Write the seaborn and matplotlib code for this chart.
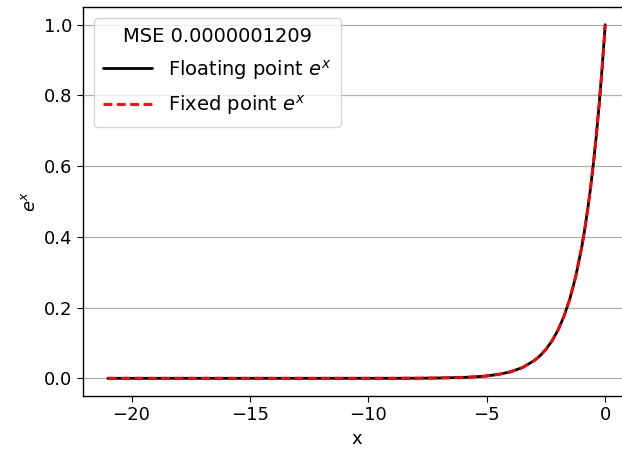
import matplotlib
matplotlib.use("Agg")
import matplotlib.pyplot as plt
import seaborn as sns
import pandas as pd

# Sampled values of e^x (floating point reference and fixed point approximation)
x_vals = [-21, -18, -15, -12, -10, -9, -8, -7, -6, -5.5, -5, -4.5, -4, -3.5, -3,
          -2.75, -2.5, -2.25, -2, -1.75, -1.5, -1.25, -1, -0.875, -0.75, -0.625,
          -0.5, -0.375, -0.25, -0.125, 0]
float_vals = [0.0, 0.0, 0.0, 0.00001, 0.00005, 0.0001, 0.0003, 0.0009, 0.0025,
              0.0041, 0.0067, 0.0111, 0.0183, 0.0302, 0.0498, 0.0639, 0.0821,
              0.1054, 0.1353, 0.1738, 0.2231, 0.2865, 0.3679, 0.4169, 0.4724,
              0.5353, 0.6065, 0.6873, 0.7788, 0.8825, 1.0]
fixed_vals = [0.0, 0.0, 0.0, 0.00001, 0.00005, 0.0001, 0.0003, 0.0009, 0.0025,
              0.0041, 0.0067, 0.0111, 0.0183, 0.0302, 0.0498, 0.0639, 0.0821,
              0.1054, 0.1353, 0.1738, 0.2231, 0.2865, 0.3679, 0.4169, 0.4724,
              0.5353, 0.6065, 0.6873, 0.7788, 0.8825, 1.0]
mse_text = "MSE 0.0000001209"

df = pd.DataFrame({"x": x_vals, "float": float_vals, "fixed": fixed_vals})

sns.set_style("ticks", {"text.color": "black", "axes.labelcolor": "black",
                        "xtick.color": "black", "ytick.color": "black"})
plt.rcParams["font.family"] = ["DejaVu Sans"]
plt.rcParams["mathtext.fontset"] = "dejavusans"

fig = plt.figure(figsize=(6.22, 4.55), dpi=100)
ax = fig.add_axes([0.1334, 0.1297, 0.8796, 0.8549])

sns.lineplot(data=df, x="x", y="float", ax=ax, color="black", linewidth=2,
             label=r"Floating point $e^x$")
sns.lineplot(data=df, x="x", y="fixed", ax=ax, color="red", linewidth=2,
             linestyle=(0, (3.2, 1.6)), label=r"Fixed point $e^x$")

ax.set_xlim(-22.05, 1.05)
ax.set_ylim(-0.05, 1.05)
ax.set_xticks([-20, -15, -10, -5, 0])
ax.set_yticks([0.0, 0.2, 0.4, 0.6, 0.8, 1.0])
ax.set_xticklabels(["\u221220", "\u221215", "\u221210", "\u22125", "0"])
ax.set_yticklabels(["0.0", "0.2", "0.4", "0.6", "0.8", "1.0"])
ax.tick_params(labelsize=13, length=4, color="black", labelcolor="black")
ax.set_xlabel("x", fontsize=13, color="black")
ax.set_ylabel(r"$e^x$", fontsize=13, color="black")
ax.grid(axis="y", color="#b0b0b0", linewidth=0.9)
ax.grid(axis="x", visible=False)
for s in ax.spines.values():
    s.set_color("black")
    s.set_linewidth(1.0)

leg = ax.legend(title=mse_text, loc="upper left", fontsize=14,
                title_fontsize=14, frameon=True, handlelength=2.5,
                borderaxespad=0.55, labelspacing=0.6, borderpad=0.5)
leg.get_frame().set_edgecolor("#cccccc")
leg._legend_box.sep = 8
for t in leg.get_texts():
    t.set_color("black")
leg.get_title().set_color("black")

fig.savefig("out.png", dpi=100)
